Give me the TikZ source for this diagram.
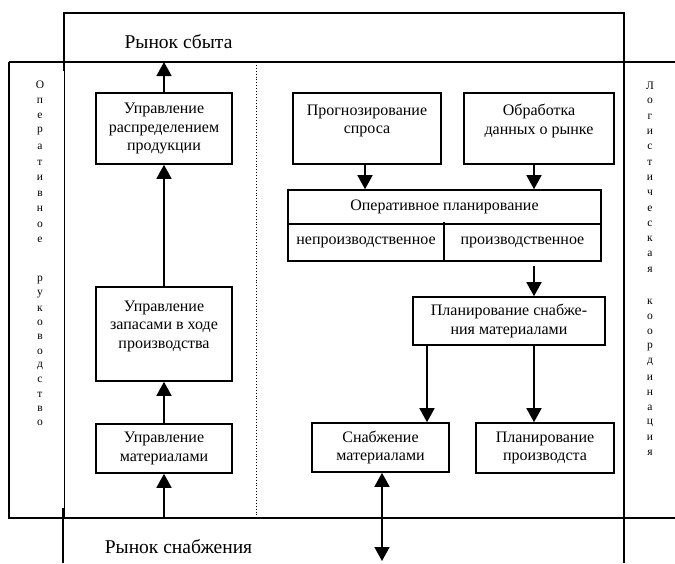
\documentclass[tikz,border=0pt]{standalone}
\usepackage{fontspec}
\setmainfont{Liberation Serif}
\usetikzlibrary{arrows.meta}
\begin{document}
\begin{tikzpicture}[x=1pt,y=-1pt,
  frame/.style={line width=1.6pt},
  thinframe/.style={line width=0.8pt},
  box/.style={draw,line width=1.6pt,inner sep=0pt,align=center,
    font=\fontsize{16}{18.5}\selectfont},
  txt/.style={inner sep=0pt,align=center,font=\fontsize{16}{18.5}\selectfont},
  arr/.style={line width=1.6pt,-{Triangle[length=14pt,width=15pt]}},
  darr/.style={line width=1.6pt,{Triangle[length=14pt,width=15pt]}-{Triangle[length=14pt,width=15pt]}},
  market/.style={inner sep=0pt,font=\fontsize{19.5}{22}\selectfont},
  vletter/.style={inner sep=0pt,font=\fontsize{11.5}{13}\selectfont}]
\useasboundingbox (0,0) rectangle (675,563);
% frame lines
\draw[frame] (64,71) -- (64,13) -- (624,13) -- (624,563);
\draw[frame] (9,62) -- (675,62);
\draw[frame] (9,62) -- (9,518) -- (675,518);
\draw[thinframe] (64,62) -- (64,518);
\draw[frame] (63,508) -- (63,563);
\draw[line width=0.9pt,dotted] (256,62) -- (256,518);
% market labels
\node[market] (sbytlbl) at (178.5,42) {Рынок сбыта};
\node[market] (snablbl) at (178.5,547) {Рынок снабжения};
% vertical texts
\foreach \c [count=\i from 0] in {О,п,е,р,а,т,и,в,н,о,е}
  \node[vletter] (La\i) at (40,85+15.5*\i) {\c};
\foreach \c [count=\i from 0] in {р,у,к,о,в,о,д,с,т,в,о}
  \node[vletter] (Lb\i) at (40,280+14.3*\i) {\c};
\foreach \c [count=\i from 0] in {Л,о,г,и,с,т,и,ч,е,с,к,а,я}
  \node[vletter] (Ra\i) at (650,86+15.3*\i) {\c};
\foreach \c [count=\i from 0] in {к,о,о,р,д,и,н,а,ц,и,я}
  \node[vletter] (Rb\i) at (650,302+15.1*\i) {\c};
% left column boxes
\node[box,minimum width=136,minimum height=71] (distr) at (164,128.5)
  {Управление\\распределением\\продукции};
\node[box,minimum width=136,minimum height=94] (zap) at (164,334)
  {Управление\\запасами в ходе\\производства\\\mbox{}};
\node[box,minimum width=136,minimum height=49] (mat) at (164,448.5)
  {Управление\\материалами};
% right part boxes
\node[box,minimum width=148,minimum height=71] (prog) at (367,128.5)
  {Прогнозирование\\спроса\\\mbox{}};
\node[box,minimum width=150,minimum height=71] (obr) at (539,128.5)
  {Обработка\\данных о рынке\\\mbox{}};
\node[box,minimum width=313,minimum height=71] (oper) at (444.5,225.5) {};
\draw[line width=1.6pt] (oper.west |- 0,224) -- (oper.east |- 0,224);
\draw[line width=1.6pt] (444,222) -- (oper.south -| 444,0);
\node[txt] (opertitle) at (444.5,207) {Оперативное планирование};
\node[txt] (nonprod) at (366,242.5) {непроизводственное};
\node[txt] (prod) at (522.5,242.5) {производственное};
\node[box,minimum width=192,minimum height=48] (plsn) at (509,321)
  {Планирование снабже-\\ния материалами};
\node[box,minimum width=137,minimum height=49] (snab) at (380.5,447.5)
  {Снабжение\\материалами};
\node[box,minimum width=138,minimum height=50] (plpr) at (545,448)
  {Планирование\\производста};
% free ends
\coordinate (sbyt) at (164,62);
\coordinate (matin) at (164,518);
\coordinate (snabout) at (382,561);
% connectors
\draw[arr] (distr.north) -- (sbyt);
\draw[arr] (zap.north) -- (distr.south);
\draw[arr] (mat.north) -- (zap.south);
\draw[arr] (matin) -- (mat.south);
\draw[arr] (prog.south -| 365,0) -- (oper.north -| 365,0);
\draw[arr] (obr.south -| 534,0) -- (oper.north -| 534,0);
\draw[arr] ([yshift=-4pt]oper.south -| 534,0) -- (plsn.north -| 534,0);
\draw[arr] (plsn.south -| 427,0) -- (snab.north -| 427,0);
\draw[arr] (plsn.south -| 534,0) -- (plpr.north -| 534,0);
\draw[darr] (snab.south -| 382,0) -- (snabout);
\end{tikzpicture}
\end{document}
